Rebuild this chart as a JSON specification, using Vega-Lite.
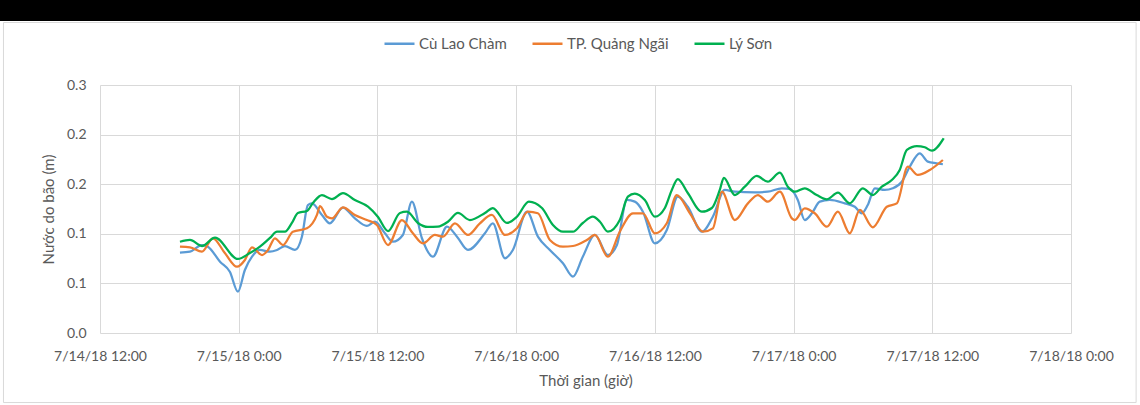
{
  "width": 971,
  "height": 248,
  "autosize": {"type": "none"},
  "padding": {"left": 100, "top": 85, "right": 69, "bottom": 72},
  "background": "white",
  "config": {
    "font": "Lato",
    "view": {"stroke": null},
    "axis": {
      "labelColor": "#595959",
      "titleColor": "#595959",
      "labelFontSize": 14,
      "titleFontSize": 15,
      "titleFontWeight": "normal",
      "gridColor": "#d9d9d9",
      "domain": false,
      "ticks": false
    },
    "legend": {
      "labelColor": "#595959",
      "labelFontSize": 15,
      "symbolType": "stroke",
      "symbolSize": 900,
      "symbolStrokeWidth": 2.5,
      "labelOffset": 3,
      "columnPadding": 20
    }
  },
  "layer": [
    {
      "data": {"values": [{"k": 1}]},
      "mark": {"type": "rect", "color": "black", "clip": false},
      "encoding": {
        "x": {"datum": {"year": 2018, "month": 7, "date": 14, "hours": 0}, "type": "temporal", "title": "Thời gian (giờ)"},
        "x2": {"datum": {"year": 2018, "month": 7, "date": 18, "hours": 12}},
        "y": {"datum": 0.34, "type": "quantitative", "title": "Nước do bão (m)"},
        "y2": {"datum": 0.3145}
      }
    },
    {
      "data": {"values": [{"k": 1}]},
      "mark": {"type": "rect", "filled": false, "stroke": "#d9d9d9", "strokeWidth": 1, "clip": false},
      "encoding": {
        "x": {"datum": {"year": 2018, "month": 7, "date": 14, "hours": 3, "minutes": 39}, "type": "temporal", "title": "Thời gian (giờ)"},
        "x2": {"datum": {"year": 2018, "month": 7, "date": 18, "hours": 5, "minutes": 38}},
        "y": {"datum": 0.313, "type": "quantitative", "title": "Nước do bão (m)"},
        "y2": {"datum": -0.0701}
      }
    },
    {
      "data": {"values": [
        {"t": "2018-07-14T18:55", "s": "Cù Lao Chàm", "v": 0.081},
        {"t": "2018-07-14T19:47", "s": "Cù Lao Chàm", "v": 0.082},
        {"t": "2018-07-14T20:49", "s": "Cù Lao Chàm", "v": 0.0887},
        {"t": "2018-07-14T21:20", "s": "Cù Lao Chàm", "v": 0.087},
        {"t": "2018-07-14T22:23", "s": "Cù Lao Chàm", "v": 0.0719},
        {"t": "2018-07-14T23:14", "s": "Cù Lao Chàm", "v": 0.0618},
        {"t": "2018-07-14T23:56", "s": "Cù Lao Chàm", "v": 0.0416},
        {"t": "2018-07-15T00:32", "s": "Cù Lao Chàm", "v": 0.0635},
        {"t": "2018-07-15T01:09", "s": "Cù Lao Chàm", "v": 0.0769},
        {"t": "2018-07-15T01:50", "s": "Cù Lao Chàm", "v": 0.0837},
        {"t": "2018-07-15T02:42", "s": "Cù Lao Chàm", "v": 0.082},
        {"t": "2018-07-15T03:19", "s": "Cù Lao Chàm", "v": 0.0837},
        {"t": "2018-07-15T04:00", "s": "Cù Lao Chàm", "v": 0.0877},
        {"t": "2018-07-15T04:52", "s": "Cù Lao Chàm", "v": 0.0837},
        {"t": "2018-07-15T05:28", "s": "Cù Lao Chàm", "v": 0.0971},
        {"t": "2018-07-15T05:59", "s": "Cù Lao Chàm", "v": 0.129},
        {"t": "2018-07-15T06:20", "s": "Cù Lao Chàm", "v": 0.1307},
        {"t": "2018-07-15T07:12", "s": "Cù Lao Chàm", "v": 0.119},
        {"t": "2018-07-15T07:53", "s": "Cù Lao Chàm", "v": 0.1106},
        {"t": "2018-07-15T09:01", "s": "Cù Lao Chàm", "v": 0.1265},
        {"t": "2018-07-15T10:03", "s": "Cù Lao Chàm", "v": 0.1156},
        {"t": "2018-07-15T11:05", "s": "Cù Lao Chàm", "v": 0.1079},
        {"t": "2018-07-15T11:47", "s": "Cù Lao Chàm", "v": 0.1122},
        {"t": "2018-07-15T12:39", "s": "Cù Lao Chàm", "v": 0.1005},
        {"t": "2018-07-15T13:20", "s": "Cù Lao Chàm", "v": 0.092},
        {"t": "2018-07-15T14:12", "s": "Cù Lao Chàm", "v": 0.0988},
        {"t": "2018-07-15T14:59", "s": "Cù Lao Chàm", "v": 0.1324},
        {"t": "2018-07-15T15:51", "s": "Cù Lao Chàm", "v": 0.0955},
        {"t": "2018-07-15T16:48", "s": "Cù Lao Chàm", "v": 0.0769},
        {"t": "2018-07-15T18:01", "s": "Cù Lao Chàm", "v": 0.1072},
        {"t": "2018-07-15T18:53", "s": "Cù Lao Chàm", "v": 0.0971},
        {"t": "2018-07-15T19:50", "s": "Cù Lao Chàm", "v": 0.0837},
        {"t": "2018-07-15T21:18", "s": "Cù Lao Chàm", "v": 0.1005},
        {"t": "2018-07-15T21:59", "s": "Cù Lao Chàm", "v": 0.1106},
        {"t": "2018-07-15T23:02", "s": "Cù Lao Chàm", "v": 0.0753},
        {"t": "2018-07-15T23:43", "s": "Cù Lao Chàm", "v": 0.0837},
        {"t": "2018-07-16T00:56", "s": "Cù Lao Chàm", "v": 0.1223},
        {"t": "2018-07-16T01:53", "s": "Cù Lao Chàm", "v": 0.0971},
        {"t": "2018-07-16T02:55", "s": "Cù Lao Chàm", "v": 0.0837},
        {"t": "2018-07-16T04:03", "s": "Cù Lao Chàm", "v": 0.0703},
        {"t": "2018-07-16T04:55", "s": "Cù Lao Chàm", "v": 0.0568},
        {"t": "2018-07-16T05:46", "s": "Cù Lao Chàm", "v": 0.0769},
        {"t": "2018-07-16T06:49", "s": "Cù Lao Chàm", "v": 0.0988},
        {"t": "2018-07-16T07:56", "s": "Cù Lao Chàm", "v": 0.0786},
        {"t": "2018-07-16T08:43", "s": "Cù Lao Chàm", "v": 0.0887},
        {"t": "2018-07-16T09:35", "s": "Cù Lao Chàm", "v": 0.1341},
        {"t": "2018-07-16T10:16", "s": "Cù Lao Chàm", "v": 0.1324},
        {"t": "2018-07-16T10:58", "s": "Cù Lao Chàm", "v": 0.1223},
        {"t": "2018-07-16T12:00", "s": "Cù Lao Chàm", "v": 0.0904},
        {"t": "2018-07-16T13:02", "s": "Cù Lao Chàm", "v": 0.1038},
        {"t": "2018-07-16T13:59", "s": "Cù Lao Chàm", "v": 0.1374},
        {"t": "2018-07-16T14:51", "s": "Cù Lao Chàm", "v": 0.1273},
        {"t": "2018-07-16T16:04", "s": "Cù Lao Chàm", "v": 0.1021},
        {"t": "2018-07-16T17:01", "s": "Cù Lao Chàm", "v": 0.1172},
        {"t": "2018-07-16T18:03", "s": "Cù Lao Chàm", "v": 0.1442},
        {"t": "2018-07-16T18:55", "s": "Cù Lao Chàm", "v": 0.1424},
        {"t": "2018-07-16T20:39", "s": "Cù Lao Chàm", "v": 0.1418},
        {"t": "2018-07-16T21:46", "s": "Cù Lao Chàm", "v": 0.1424},
        {"t": "2018-07-16T22:59", "s": "Cù Lao Chàm", "v": 0.1459},
        {"t": "2018-07-16T23:41", "s": "Cù Lao Chàm", "v": 0.1452},
        {"t": "2018-07-17T00:22", "s": "Cù Lao Chàm", "v": 0.1341},
        {"t": "2018-07-17T00:58", "s": "Cù Lao Chàm", "v": 0.1139},
        {"t": "2018-07-17T01:35", "s": "Cù Lao Chàm", "v": 0.1207},
        {"t": "2018-07-17T02:16", "s": "Cù Lao Chàm", "v": 0.1324},
        {"t": "2018-07-17T03:08", "s": "Cù Lao Chàm", "v": 0.1341},
        {"t": "2018-07-17T04:26", "s": "Cù Lao Chàm", "v": 0.1307},
        {"t": "2018-07-17T05:18", "s": "Cù Lao Chàm", "v": 0.1273},
        {"t": "2018-07-17T05:54", "s": "Cù Lao Chàm", "v": 0.1207},
        {"t": "2018-07-17T06:25", "s": "Cù Lao Chàm", "v": 0.129},
        {"t": "2018-07-17T07:02", "s": "Cù Lao Chàm", "v": 0.1459},
        {"t": "2018-07-17T07:53", "s": "Cù Lao Chàm", "v": 0.1442},
        {"t": "2018-07-17T08:35", "s": "Cù Lao Chàm", "v": 0.1459},
        {"t": "2018-07-17T09:22", "s": "Cù Lao Chàm", "v": 0.1525},
        {"t": "2018-07-17T10:03", "s": "Cù Lao Chàm", "v": 0.1676},
        {"t": "2018-07-17T10:55", "s": "Cù Lao Chàm", "v": 0.1811},
        {"t": "2018-07-17T11:37", "s": "Cù Lao Chàm", "v": 0.1727},
        {"t": "2018-07-17T12:23", "s": "Cù Lao Chàm", "v": 0.1711},
        {"t": "2018-07-17T12:55", "s": "Cù Lao Chàm", "v": 0.1701},
        {"t": "2018-07-14T18:55", "s": "TP. Quảng Ngãi", "v": 0.087},
        {"t": "2018-07-14T19:47", "s": "TP. Quảng Ngãi", "v": 0.0864},
        {"t": "2018-07-14T20:49", "s": "TP. Quảng Ngãi", "v": 0.082},
        {"t": "2018-07-14T21:46", "s": "TP. Quảng Ngãi", "v": 0.0955},
        {"t": "2018-07-14T22:49", "s": "TP. Quảng Ngãi", "v": 0.0803},
        {"t": "2018-07-14T23:51", "s": "TP. Quảng Ngãi", "v": 0.0668},
        {"t": "2018-07-15T00:32", "s": "TP. Quảng Ngãi", "v": 0.0736},
        {"t": "2018-07-15T01:09", "s": "TP. Quảng Ngãi", "v": 0.0864},
        {"t": "2018-07-15T02:01", "s": "TP. Quảng Ngãi", "v": 0.0786},
        {"t": "2018-07-15T02:32", "s": "TP. Quảng Ngãi", "v": 0.0837},
        {"t": "2018-07-15T03:08", "s": "TP. Quảng Ngãi", "v": 0.0955},
        {"t": "2018-07-15T03:50", "s": "TP. Quảng Ngãi", "v": 0.0887},
        {"t": "2018-07-15T04:41", "s": "TP. Quảng Ngãi", "v": 0.1021},
        {"t": "2018-07-15T05:54", "s": "TP. Quảng Ngãi", "v": 0.1055},
        {"t": "2018-07-15T06:46", "s": "TP. Quảng Ngãi", "v": 0.119},
        {"t": "2018-07-15T07:02", "s": "TP. Quảng Ngãi", "v": 0.128},
        {"t": "2018-07-15T07:38", "s": "TP. Quảng Ngãi", "v": 0.1172},
        {"t": "2018-07-15T08:04", "s": "TP. Quảng Ngãi", "v": 0.1156},
        {"t": "2018-07-15T09:01", "s": "TP. Quảng Ngãi", "v": 0.1267},
        {"t": "2018-07-15T10:03", "s": "TP. Quảng Ngãi", "v": 0.119},
        {"t": "2018-07-15T11:05", "s": "TP. Quảng Ngãi", "v": 0.1139},
        {"t": "2018-07-15T11:57", "s": "TP. Quảng Ngãi", "v": 0.1089},
        {"t": "2018-07-15T12:55", "s": "TP. Quảng Ngãi", "v": 0.0887},
        {"t": "2018-07-15T14:07", "s": "TP. Quảng Ngãi", "v": 0.1139},
        {"t": "2018-07-15T15:04", "s": "TP. Quảng Ngãi", "v": 0.1005},
        {"t": "2018-07-15T15:56", "s": "TP. Quảng Ngãi", "v": 0.0904},
        {"t": "2018-07-15T16:58", "s": "TP. Quảng Ngãi", "v": 0.0988},
        {"t": "2018-07-15T17:40", "s": "TP. Quảng Ngãi", "v": 0.0971},
        {"t": "2018-07-15T18:42", "s": "TP. Quảng Ngãi", "v": 0.1106},
        {"t": "2018-07-15T19:50", "s": "TP. Quảng Ngãi", "v": 0.0988},
        {"t": "2018-07-15T20:52", "s": "TP. Quảng Ngãi", "v": 0.1106},
        {"t": "2018-07-15T21:54", "s": "TP. Quảng Ngãi", "v": 0.119},
        {"t": "2018-07-15T23:02", "s": "TP. Quảng Ngãi", "v": 0.0988},
        {"t": "2018-07-16T00:04", "s": "TP. Quảng Ngãi", "v": 0.1055},
        {"t": "2018-07-16T01:01", "s": "TP. Quảng Ngãi", "v": 0.1223},
        {"t": "2018-07-16T01:53", "s": "TP. Quảng Ngãi", "v": 0.1207},
        {"t": "2018-07-16T02:55", "s": "TP. Quảng Ngãi", "v": 0.0938},
        {"t": "2018-07-16T04:03", "s": "TP. Quảng Ngãi", "v": 0.087},
        {"t": "2018-07-16T04:55", "s": "TP. Quảng Ngãi", "v": 0.0877},
        {"t": "2018-07-16T06:07", "s": "TP. Quảng Ngãi", "v": 0.0938},
        {"t": "2018-07-16T06:49", "s": "TP. Quảng Ngãi", "v": 0.0988},
        {"t": "2018-07-16T07:56", "s": "TP. Quảng Ngãi", "v": 0.0769},
        {"t": "2018-07-16T08:58", "s": "TP. Quảng Ngãi", "v": 0.1021},
        {"t": "2018-07-16T10:06", "s": "TP. Quảng Ngãi", "v": 0.1207},
        {"t": "2018-07-16T10:58", "s": "TP. Quảng Ngãi", "v": 0.1207},
        {"t": "2018-07-16T12:00", "s": "TP. Quảng Ngãi", "v": 0.1005},
        {"t": "2018-07-16T13:02", "s": "TP. Quảng Ngãi", "v": 0.1106},
        {"t": "2018-07-16T13:54", "s": "TP. Quảng Ngãi", "v": 0.1391},
        {"t": "2018-07-16T15:02", "s": "TP. Quảng Ngãi", "v": 0.1207},
        {"t": "2018-07-16T16:09", "s": "TP. Quảng Ngãi", "v": 0.1021},
        {"t": "2018-07-16T17:01", "s": "TP. Quảng Ngãi", "v": 0.1055},
        {"t": "2018-07-16T17:48", "s": "TP. Quảng Ngãi", "v": 0.1424},
        {"t": "2018-07-16T18:55", "s": "TP. Quảng Ngãi", "v": 0.1139},
        {"t": "2018-07-16T20:03", "s": "TP. Quảng Ngãi", "v": 0.1307},
        {"t": "2018-07-16T20:55", "s": "TP. Quảng Ngãi", "v": 0.1391},
        {"t": "2018-07-16T21:46", "s": "TP. Quảng Ngãi", "v": 0.1324},
        {"t": "2018-07-16T22:49", "s": "TP. Quảng Ngãi", "v": 0.1424},
        {"t": "2018-07-16T23:51", "s": "TP. Quảng Ngãi", "v": 0.1156},
        {"t": "2018-07-17T00:06", "s": "TP. Quảng Ngãi", "v": 0.1139},
        {"t": "2018-07-17T00:58", "s": "TP. Quảng Ngãi", "v": 0.1257},
        {"t": "2018-07-17T01:50", "s": "TP. Quảng Ngãi", "v": 0.1207},
        {"t": "2018-07-17T02:53", "s": "TP. Quảng Ngãi", "v": 0.1072},
        {"t": "2018-07-17T03:50", "s": "TP. Quảng Ngãi", "v": 0.1223},
        {"t": "2018-07-17T04:52", "s": "TP. Quảng Ngãi", "v": 0.1005},
        {"t": "2018-07-17T05:44", "s": "TP. Quảng Ngãi", "v": 0.124},
        {"t": "2018-07-17T06:51", "s": "TP. Quảng Ngãi", "v": 0.1066},
        {"t": "2018-07-17T08:04", "s": "TP. Quảng Ngãi", "v": 0.1273},
        {"t": "2018-07-17T08:56", "s": "TP. Quảng Ngãi", "v": 0.1307},
        {"t": "2018-07-17T09:53", "s": "TP. Quảng Ngãi", "v": 0.1676},
        {"t": "2018-07-17T10:45", "s": "TP. Quảng Ngãi", "v": 0.1593},
        {"t": "2018-07-17T11:47", "s": "TP. Quảng Ngãi", "v": 0.1643},
        {"t": "2018-07-17T12:55", "s": "TP. Quảng Ngãi", "v": 0.1744},
        {"t": "2018-07-14T18:55", "s": "Lý Sơn", "v": 0.092},
        {"t": "2018-07-14T19:47", "s": "Lý Sơn", "v": 0.0938},
        {"t": "2018-07-14T20:49", "s": "Lý Sơn", "v": 0.0877},
        {"t": "2018-07-14T21:57", "s": "Lý Sơn", "v": 0.0961},
        {"t": "2018-07-14T23:56", "s": "Lý Sơn", "v": 0.0746},
        {"t": "2018-07-15T00:58", "s": "Lý Sơn", "v": 0.0806},
        {"t": "2018-07-15T01:50", "s": "Lý Sơn", "v": 0.087},
        {"t": "2018-07-15T02:42", "s": "Lý Sơn", "v": 0.0958},
        {"t": "2018-07-15T03:19", "s": "Lý Sơn", "v": 0.1021},
        {"t": "2018-07-15T04:00", "s": "Lý Sơn", "v": 0.1021},
        {"t": "2018-07-15T04:36", "s": "Lý Sơn", "v": 0.1109},
        {"t": "2018-07-15T05:07", "s": "Lý Sơn", "v": 0.121},
        {"t": "2018-07-15T05:54", "s": "Lý Sơn", "v": 0.123},
        {"t": "2018-07-15T06:25", "s": "Lý Sơn", "v": 0.131},
        {"t": "2018-07-15T07:12", "s": "Lý Sơn", "v": 0.139},
        {"t": "2018-07-15T08:04", "s": "Lý Sơn", "v": 0.135},
        {"t": "2018-07-15T09:01", "s": "Lý Sơn", "v": 0.141},
        {"t": "2018-07-15T10:03", "s": "Lý Sơn", "v": 0.134},
        {"t": "2018-07-15T11:11", "s": "Lý Sơn", "v": 0.1273},
        {"t": "2018-07-15T12:02", "s": "Lý Sơn", "v": 0.1172},
        {"t": "2018-07-15T12:55", "s": "Lý Sơn", "v": 0.1028},
        {"t": "2018-07-15T13:57", "s": "Lý Sơn", "v": 0.121},
        {"t": "2018-07-15T14:33", "s": "Lý Sơn", "v": 0.1223},
        {"t": "2018-07-15T15:30", "s": "Lý Sơn", "v": 0.1109},
        {"t": "2018-07-15T16:22", "s": "Lý Sơn", "v": 0.1069},
        {"t": "2018-07-15T17:14", "s": "Lý Sơn", "v": 0.1072},
        {"t": "2018-07-15T18:06", "s": "Lý Sơn", "v": 0.1122},
        {"t": "2018-07-15T18:58", "s": "Lý Sơn", "v": 0.121},
        {"t": "2018-07-15T20:00", "s": "Lý Sơn", "v": 0.1139},
        {"t": "2018-07-15T21:18", "s": "Lý Sơn", "v": 0.121},
        {"t": "2018-07-15T21:59", "s": "Lý Sơn", "v": 0.126},
        {"t": "2018-07-15T23:12", "s": "Lý Sơn", "v": 0.1109},
        {"t": "2018-07-16T00:04", "s": "Lý Sơn", "v": 0.1172},
        {"t": "2018-07-16T01:06", "s": "Lý Sơn", "v": 0.1324},
        {"t": "2018-07-16T02:14", "s": "Lý Sơn", "v": 0.126},
        {"t": "2018-07-16T03:11", "s": "Lý Sơn", "v": 0.1089},
        {"t": "2018-07-16T04:03", "s": "Lý Sơn", "v": 0.1021},
        {"t": "2018-07-16T04:55", "s": "Lý Sơn", "v": 0.1021},
        {"t": "2018-07-16T05:46", "s": "Lý Sơn", "v": 0.1109},
        {"t": "2018-07-16T06:38", "s": "Lý Sơn", "v": 0.1172},
        {"t": "2018-07-16T07:15", "s": "Lý Sơn", "v": 0.1122},
        {"t": "2018-07-16T07:56", "s": "Lý Sơn", "v": 0.1021},
        {"t": "2018-07-16T08:58", "s": "Lý Sơn", "v": 0.1139},
        {"t": "2018-07-16T09:40", "s": "Lý Sơn", "v": 0.1374},
        {"t": "2018-07-16T10:16", "s": "Lý Sơn", "v": 0.1406},
        {"t": "2018-07-16T11:08", "s": "Lý Sơn", "v": 0.134},
        {"t": "2018-07-16T12:00", "s": "Lý Sơn", "v": 0.1172},
        {"t": "2018-07-16T12:52", "s": "Lý Sơn", "v": 0.126},
        {"t": "2018-07-16T13:28", "s": "Lý Sơn", "v": 0.1442},
        {"t": "2018-07-16T13:59", "s": "Lý Sơn", "v": 0.1552},
        {"t": "2018-07-16T14:51", "s": "Lý Sơn", "v": 0.1411},
        {"t": "2018-07-16T16:04", "s": "Lý Sơn", "v": 0.1223},
        {"t": "2018-07-16T16:56", "s": "Lý Sơn", "v": 0.126},
        {"t": "2018-07-16T17:37", "s": "Lý Sơn", "v": 0.1442},
        {"t": "2018-07-16T17:58", "s": "Lý Sơn", "v": 0.1563},
        {"t": "2018-07-16T18:55", "s": "Lý Sơn", "v": 0.1391},
        {"t": "2018-07-16T19:47", "s": "Lý Sơn", "v": 0.1475},
        {"t": "2018-07-16T20:49", "s": "Lý Sơn", "v": 0.1583},
        {"t": "2018-07-16T21:46", "s": "Lý Sơn", "v": 0.1525},
        {"t": "2018-07-16T22:49", "s": "Lý Sơn", "v": 0.1616},
        {"t": "2018-07-16T23:30", "s": "Lý Sơn", "v": 0.1475},
        {"t": "2018-07-17T00:06", "s": "Lý Sơn", "v": 0.1424},
        {"t": "2018-07-17T00:58", "s": "Lý Sơn", "v": 0.1459},
        {"t": "2018-07-17T02:00", "s": "Lý Sơn", "v": 0.1391},
        {"t": "2018-07-17T02:53", "s": "Lý Sơn", "v": 0.1348},
        {"t": "2018-07-17T03:50", "s": "Lý Sơn", "v": 0.1414},
        {"t": "2018-07-17T04:52", "s": "Lý Sơn", "v": 0.1307},
        {"t": "2018-07-17T05:59", "s": "Lý Sơn", "v": 0.1459},
        {"t": "2018-07-17T06:51", "s": "Lý Sơn", "v": 0.1391},
        {"t": "2018-07-17T07:38", "s": "Lý Sơn", "v": 0.1475},
        {"t": "2018-07-17T08:30", "s": "Lý Sơn", "v": 0.1542},
        {"t": "2018-07-17T09:11", "s": "Lý Sơn", "v": 0.1643},
        {"t": "2018-07-17T09:48", "s": "Lý Sơn", "v": 0.1845},
        {"t": "2018-07-17T10:40", "s": "Lý Sơn", "v": 0.1885},
        {"t": "2018-07-17T11:21", "s": "Lý Sơn", "v": 0.1872},
        {"t": "2018-07-17T11:58", "s": "Lý Sơn", "v": 0.1838},
        {"t": "2018-07-17T12:59", "s": "Lý Sơn", "v": 0.1963}
      ]},
      "mark": {"type": "line", "interpolate": "monotone", "strokeWidth": 2.25},
      "encoding": {
        "x": {
          "field": "t",
          "type": "temporal",
          "title": "Thời gian (giờ)",
          "scale": {
            "domain": [
              {"year": 2018, "month": 7, "date": 14, "hours": 12},
              {"year": 2018, "month": 7, "date": 18, "hours": 0}
            ],
            "nice": false
          },
          "axis": {
            "tickCount": 8,
            "format": "%-m/%-d/%y %-H:%M",
            "labelFlush": false,
            "labelOverlap": false,
            "labelPadding": 16,
            "titlePadding": 10,
            "grid": true
          }
        },
        "y": {
          "field": "v",
          "type": "quantitative",
          "title": "Nước do bão (m)",
          "scale": {"domain": [0, 0.25], "nice": false},
          "axis": {
            "values": [0, 0.05, 0.1, 0.15, 0.2, 0.25],
            "labelExpr": "format(datum.value + 0.000001, '.1f')",
            "labelPadding": 14,
            "titlePadding": 10,
            "grid": true
          }
        },
        "color": {
          "field": "s",
          "type": "nominal",
          "title": null,
          "scale": {
            "domain": ["Cù Lao Chàm", "TP. Quảng Ngãi", "Lý Sơn"],
            "range": ["#5B9BD5", "#ED7D31", "#00B050"]
          },
          "legend": {
            "orient": "none",
            "direction": "horizontal",
            "legendX": 283,
            "legendY": -58
          }
        }
      }
    }
  ]
}
